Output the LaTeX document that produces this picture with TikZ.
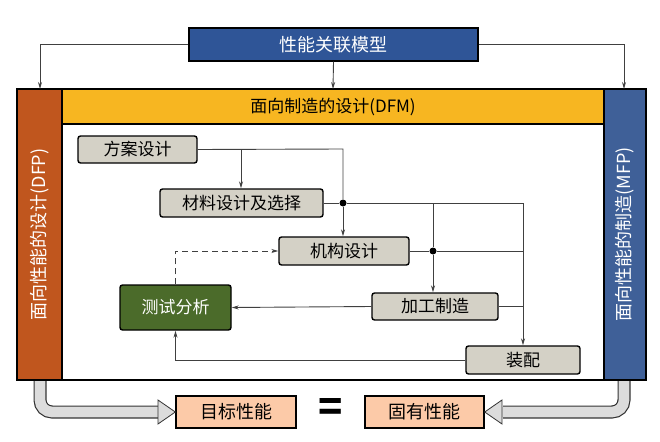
\documentclass[tikz,border=0pt]{standalone}
\usepackage{fontspec}
\setmainfont{Noto Sans CJK SC}
\begin{document}
\begin{tikzpicture}[x=1pt,y=-1pt,
  box/.style={draw=black,line width=1.4pt,rounded corners=2.5pt,fill=boxgray,font=\fontsize{17}{19}\selectfont,inner sep=0pt},
  ln/.style={draw=black!75,line width=0.9pt},
  arr/.style={ln,-{Stealth[length=7pt,width=4pt]}},
  dot/.style={circle,fill=black,inner sep=0pt,minimum size=7pt}]
\usetikzlibrary{arrows.meta}
\definecolor{boxgray}{HTML}{D4D1C6}
\definecolor{topblue}{HTML}{2F5597}
\definecolor{barblue}{HTML}{3F6098}
\definecolor{barorange}{HTML}{C0561E}
\definecolor{hdryellow}{HTML}{F7B621}
\definecolor{testgreen}{HTML}{4B6B2A}
\definecolor{peach}{HTML}{FCCAA8}
\definecolor{hollow}{HTML}{DCDCDC}
\useasboundingbox (0,0) rectangle (660,441);
% top
\node[draw=black,line width=1.4pt,fill=topblue,text=white,minimum width=289pt,minimum height=33pt,font=\fontsize{18}{20}\selectfont,inner sep=0pt] (top) at (333.5,44.5) {性能关联模型};
% frame
\node[draw=black,line width=1.4pt,fill=barorange,minimum width=45pt,minimum height=291pt,inner sep=0pt] (lbar) at (39.5,234.5) {};
\node[draw=black,line width=1.4pt,fill=barblue,minimum width=42pt,minimum height=291pt,inner sep=0pt] (rbar) at (625,234.5) {};
\node[draw=black,line width=1.4pt,fill=hdryellow,minimum width=542pt,minimum height=35pt,inner sep=0pt,font=\fontsize{17}{19}\selectfont] (hdr) at (333,106.5) {面向制造的设计(DFM)};
\draw[line width=1.4pt] (62,124) rectangle (604,380);
\node[rotate=90,text=white,font=\fontsize{18}{20}\selectfont] (ltxt) at (lbar.center) {面向性能的设计(DFP)};
\node[rotate=90,text=white,font=\fontsize{18}{20}\selectfont] (rtxt) at (rbar.center) {面向性能的制造(MFP)};
% top arrows
\coordinate (lt) at (40,89);
\coordinate (rt) at (624,89);
\coordinate (mt) at (333,89);
\draw[arr] (top.west) -| (lt);
\draw[arr] (top.east) -| (rt);
\draw[arr] (top.south) -- (mt);
% boxes
\node[box,minimum width=119pt,minimum height=27pt] (fa) at (137.5,149.5) {方案设计};
\node[box,minimum width=163pt,minimum height=28pt] (cl) at (241.5,203) {材料设计及选择};
\node[box,minimum width=130pt,minimum height=28pt] (jg) at (344,251) {机构设计};
\node[box,fill=testgreen,text=white,minimum width=111pt,minimum height=45pt] (cs) at (175.5,307.5) {测试分析};
\node[box,minimum width=126pt,minimum height=27pt] (jz) at (435,306.5) {加工制造};
\node[box,minimum width=114pt,minimum height=28pt] (zp) at (523,360) {装配};
% connectors
\node[dot] (d1) at (343,203) {};
\node[dot] (d2) at (433,251) {};
\draw[ln] (fa.east) -- (343,149) -- (d1);
\draw[arr] (d1) -- (jg.north -| d1);
\draw[arr] (241,149) -- (cl.north -| 241,0);
\draw[ln] (cl.east) -- (d1);
\draw[arr] (d1) -- (523,203) -- (zp.north);
\draw[arr] (433,203) -- (d2) -- (jz.north -| d2);
\draw[ln] (jg.east) -- (d2) -- (523,251);
\draw[ln] (jz.east) -- (523,306.5);
\draw[arr] (jz.west) -- (cs.east);
\draw[arr] (zp.west) -| (cs.south);
\draw[arr,dashed,dash pattern=on 6pt off 4pt] (cs.north) |- (jg.west);
% bottom
\node[draw=black,line width=1.4pt,fill=peach,minimum width=120pt,minimum height=32pt,inner sep=0pt,font=\fontsize{18}{20}\selectfont] (mb) at (236,412) {目标性能};
\node[draw=black,line width=1.4pt,fill=peach,minimum width=119pt,minimum height=32pt,inner sep=0pt,font=\fontsize{18}{20}\selectfont] (gy) at (424.5,412) {固有性能};
\node[font=\fontsize{40}{40}\selectfont\bfseries] (eq) at (330.5,410) {=};
% hollow arrows
\draw[line width=13pt,black!80,rounded corners=12pt] (40,379) -- (40,412) -- (161,412);
\draw[line width=10.6pt,hollow,rounded corners=12pt] (40,379) -- (40,412) -- (162,412);
\draw[black!80,line width=0.8pt,fill=hollow] (158,400) -- (mb.west) -- (158,424) -- cycle;
\draw[line width=13pt,black!80,rounded corners=12pt] (624,379) -- (624,412) -- (503,412);
\draw[line width=10.6pt,hollow,rounded corners=12pt] (624,379) -- (624,412) -- (502,412);
\draw[black!80,line width=0.8pt,fill=hollow] (502,400) -- (gy.east) -- (502,424) -- cycle;
\draw[line width=1.4pt] (17,380) -- (646,380);
\end{tikzpicture}
\end{document}
